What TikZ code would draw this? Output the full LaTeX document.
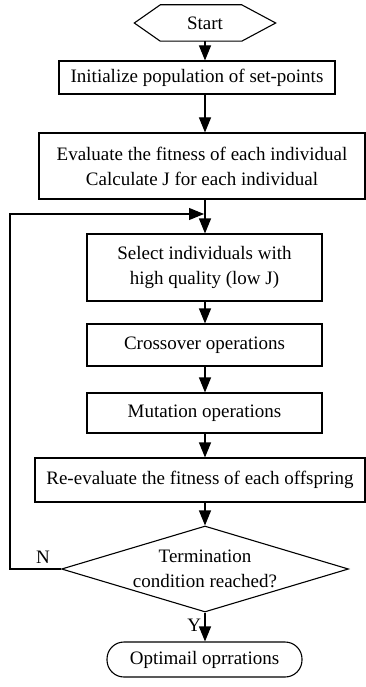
\documentclass[tikz,border=0pt]{standalone}
\usepackage{fontspec}
\setmainfont{Liberation Serif}
\usetikzlibrary{arrows.meta,shapes.geometric}

\tikzset{
	box/.style={draw,line width=1.1pt,inner sep=0pt,align=center},
	arrow/.style={line width=1.1pt,-{Triangle[length=15pt,width=12pt]}}
}

\begin{document}
\begin{tikzpicture}[x=1pt,y=-1pt,font=\fontsize{19}{25}\selectfont]
			\useasboundingbox (0,0) rectangle (366,687);
			% start and end
			\node[inner sep=0pt,minimum width=141pt,minimum height=36pt] (start) at (205,23) {Start};
			\draw[line width=1.1pt] (start.west) -- ([xshift=26pt]start.north west) -- ([xshift=-34pt]start.north east)
				-- (start.east) -- ([xshift=-34pt]start.south east) -- ([xshift=26pt]start.south west) -- cycle;
			\node[box,rounded corners=17pt,minimum width=195pt,minimum height=35pt] (optim) at (204.5,659.5) {Optimail oprrations};
			% steps
			\node[box,minimum width=276pt,minimum height=33pt] (init) at (197,77.5) {Initialize population of set-points};
			\node[box,minimum width=326pt,minimum height=66pt] (eval) at (202,166) {Evaluate the fitness of each individual\\Calculate J for each individual};
			\node[box,minimum width=235pt,minimum height=67pt] (select) at (204.5,267.5) {Select individuals with\\ high quality (low J)};
			\node[box,minimum width=235pt,minimum height=42pt] (cross) at (204.5,345) {Crossover operations};
			\node[box,minimum width=235pt,minimum height=40pt] (mutate) at (204.5,413) {Mutation operations};
			\node[box,minimum width=330pt,minimum height=44pt] (reeval) at (200,480) {Re-evaluate the fitness of each offspring};
			% decision
			\node[box,diamond,minimum width=287pt,minimum height=86pt] (check) at (205,569) {};
			\node[align=center] (checktext) at (check) {Termination\\condition reached?};
			% arrows
			\draw[arrow] (start.south) -- (start.south |- init.north);
			\draw[arrow] (start.south |- init.south) -- (start.south |- eval.north);
			\draw[arrow] (start.south |- eval.south) -- (start.south |- select.north);
			\draw[arrow] (start.south |- select.south) -- (start.south |- cross.north);
			\draw[arrow] (start.south |- cross.south) -- (start.south |- mutate.north);
			\draw[arrow] (start.south |- mutate.south) -- (start.south |- reeval.north);
			\draw[arrow] (start.south |- reeval.south) -- (check.north);
			\draw[arrow] (check.south) -- (check.south |- optim.north) node[pos=.45,anchor=east]{Y};
			% loop back
			\coordinate (corner) at (10,214);
			\coordinate (join) at (204,214);
			\draw[arrow] (check.west) -| (corner) -- (join);
			\node (no) at (43,557) {N};
		\end{tikzpicture}
\end{document}
